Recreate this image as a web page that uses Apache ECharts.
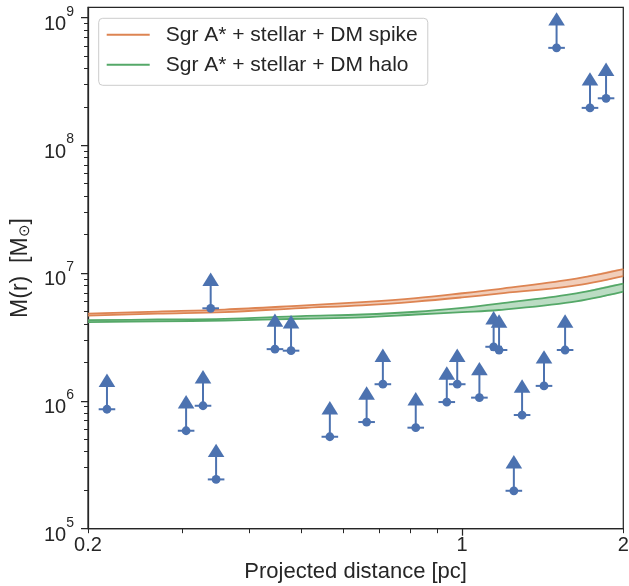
<!DOCTYPE html>
<html><head><meta charset="utf-8">
<script src="https://cdn.jsdelivr.net/npm/echarts@6/dist/echarts.min.js"></script>
<style>html,body{margin:0;padding:0;background:#fff}#c{width:629px;height:586px}</style>
</head><body><div id="c"></div>
<script>
// ---- data ----
const radii      = [0.2, 0.27, 0.36, 0.5, 0.65, 0.82, 1.0, 1.17, 1.6, 2.0];
const spikeUpper = [4.82e6, 5.00e6, 5.18e6, 5.57e6, 5.93e6, 6.37e6, 6.95e6, 7.50e6, 8.93e6, 1.075e7];
const spikeLower = [4.65e6, 4.82e6, 4.95e6, 5.32e6, 5.59e6, 5.98e6, 6.45e6, 6.91e6, 7.91e6, 9.47e6];
const haloUpper  = [4.28e6, 4.33e6, 4.38e6, 4.61e6, 4.74e6, 4.98e6, 5.35e6, 5.77e6, 6.85e6, 8.28e6];
const haloLower  = [4.13e6, 4.19e6, 4.25e6, 4.39e6, 4.50e6, 4.74e6, 4.95e6, 5.14e6, 5.93e6, 7.17e6];

const starR = [0.217, 0.305, 0.328, 0.339, 0.347, 0.447, 0.479, 0.566, 0.663, 0.711, 0.819, 0.936,
               0.979, 1.077, 1.145, 1.172, 1.249, 1.294, 1.422, 1.557, 1.501, 1.733, 1.857];
const starM = [8.6e5, 5.84e5, 9.16e5, 5.30e6, 2.43e5, 2.54e6, 2.47e6, 5.24e5, 6.83e5, 1.35e6, 6.17e5, 9.79e5,
               1.35e6, 1.06e6, 2.65e6, 2.50e6, 1.98e5, 7.75e5, 1.31e6, 2.50e6, 5.78e8, 1.96e8, 2.33e8];

const yMajorTicks = [1e5, 1e6, 1e7, 1e8, 1e9];
const yMinorTicks = [2e5,3e5,4e5,5e5,6e5,7e5,8e5,9e5,
                     2e6,3e6,4e6,5e6,6e6,7e6,8e6,9e6,
                     2e7,3e7,4e7,5e7,6e7,7e7,8e7,9e7,
                     2e8,3e8,4e8,5e8,6e8,7e8,8e8,9e8];
const xLabelTicks = [0.2, 1, 2];
const xMajorTicks = [1];
const xMinorTicks = [0.2, 0.3, 0.4, 0.5, 0.6, 0.7, 0.8, 0.9, 2];

const SPIKE_NAME = 'Sgr A* + stellar + DM spike';
const HALO_NAME = 'Sgr A* + stellar + DM halo';

// ---- styles ----
const INK = '#262626';
const FONT = 'Liberation Sans, Arial, sans-serif';
const BLUE = '#4C72B0', ORANGE = '#DD8452', GREEN = '#55A868';
const SMOOTH = 0.35;

function pairs(xs, ys) { return xs.map((x, i) => [x, ys[i]]); }

// filled band + its two edges, drawn through the axes' scales
function bandSeries(name, upper, lower, color, fill) {
  return {
    type: 'custom', name: name, xAxisIndex: 0, yAxisIndex: 0, silent: true, z: 2, clip: true,
    itemStyle: { color: color },
    data: [[radii[0], upper[0]]],
    renderItem: (params, api) => {
      const up = radii.map((r, i) => api.coord([r, upper[i]]));
      const lo = radii.map((r, i) => api.coord([r, lower[i]]));
      const poly = up.concat(lo.slice().reverse());
      return { type: 'group', children: [
        { type: 'polygon', shape: { points: poly, smooth: SMOOTH }, style: { fill: fill } },
        { type: 'polyline', shape: { points: up, smooth: SMOOTH }, style: { stroke: color, lineWidth: 1.8, fill: null } },
        { type: 'polyline', shape: { points: lo, smooth: SMOOTH }, style: { stroke: color, lineWidth: 1.8, fill: null } }
      ] };
    }
  };
}

const yLog = { type: 'log', logBase: 10, min: 1e5, max: 1.2e9 };
const xLog = { type: 'log', logBase: 10, min: 0.2, max: 2 };

const option = {
  animation: false,
  backgroundColor: '#fff',
  grid: { left: 88, right: 5.7, top: 7.3, bottom: 57.3, show: true, borderColor: INK, borderWidth: 1.25,
          backgroundColor: 'transparent', outerBoundsMode: 'none' },
  legend: {
    orient: 'vertical', left: 98.7, top: 18.3,
    data: [{ name: SPIKE_NAME, itemStyle: { color: ORANGE } }, { name: HALO_NAME, itemStyle: { color: GREEN } }],
    icon: 'rect', itemWidth: 43, itemHeight: 2, itemGap: 9,
    padding: [6, 10, 10, 8],
    backgroundColor: 'rgba(255,255,255,0.8)', borderColor: '#cccccc', borderWidth: 1, borderRadius: 4,
    textStyle: { color: INK, fontSize: 21, fontFamily: FONT, lineHeight: 21, padding: [0, 0, 0, 11] },
    selectedMode: false
  },
  xAxis: [
    Object.assign({}, xLog, {
      position: 'bottom',
      name: 'Projected distance [pc]', nameLocation: 'middle', nameGap: 26,
      nameTextStyle: { color: INK, fontSize: 22, fontFamily: FONT },
      axisLine: { show: true, lineStyle: { color: INK, width: 1.25 } },
      axisTick: { show: true, customValues: xMajorTicks, length: 7, lineStyle: { color: INK, width: 1.25 } },
      axisLabel: { show: true, customValues: xLabelTicks, margin: 7, color: INK, fontSize: 20, fontFamily: FONT,
                   formatter: v => String(Math.round(v * 10) / 10) },
      splitLine: { show: false }, minorTick: { show: false }
    }),
    Object.assign({}, xLog, {
      position: 'bottom',
      axisLine: { show: false },
      axisTick: { show: true, customValues: xMinorTicks, length: 4.5, lineStyle: { color: INK, width: 1 } },
      axisLabel: { show: false }, splitLine: { show: false }
    })
  ],
  yAxis: [
    Object.assign({}, yLog, {
      position: 'left',
      name: '{a|M(r)  [M}{s|⊙}{a|]}', nameLocation: 'middle', nameGap: 56,
      nameTextStyle: { color: INK, fontFamily: FONT,
        rich: { a: { fontSize: 23, color: INK, fontFamily: FONT },
                s: { fontSize: 15, color: INK, verticalAlign: 'bottom', fontFamily: FONT } } },
      axisLine: { show: true, lineStyle: { color: INK, width: 1.25 } },
      axisTick: { show: true, customValues: yMajorTicks, length: 7, lineStyle: { color: INK, width: 1.25 } },
      axisLabel: { show: true, customValues: yMajorTicks, margin: 14, color: INK, padding: [4, 0, 0, 0],
        formatter: v => '{b|10}{e|' + Math.round(Math.log10(v)) + '}',
        rich: { b: { fontSize: 20, color: INK, fontFamily: FONT, padding: [9.5, 0, 0, 0] },
                e: { fontSize: 14, color: INK, fontFamily: FONT, verticalAlign: 'top' } } },
      splitLine: { show: false }, minorTick: { show: false }
    }),
    Object.assign({}, yLog, {
      position: 'left',
      axisLine: { show: false },
      axisTick: { show: true, customValues: yMinorTicks, length: 4, lineStyle: { color: INK, width: 1 } },
      axisLabel: { show: false }, splitLine: { show: false }
    })
  ],
  series: [
    bandSeries(SPIKE_NAME, spikeUpper, spikeLower, ORANGE, 'rgba(221,132,82,0.4)'),
    bandSeries(HALO_NAME, haloUpper, haloLower, GREEN, 'rgba(85,168,104,0.4)'),
    {
      type: 'custom', xAxisIndex: 0, yAxisIndex: 0, z: 5, silent: true,
      data: pairs(starR, starM),
      renderItem: (params, api) => {
        const p = api.coord([api.value(0), api.value(1)]);
        const L = 29, hw = 8.3, th = 6.7;
        return { type: 'group', children: [
          { type: 'line', shape: { x1: p[0], y1: p[1], x2: p[0], y2: p[1] - L }, style: { stroke: BLUE, lineWidth: 2 } },
          { type: 'line', shape: { x1: p[0] - hw, y1: p[1], x2: p[0] + hw, y2: p[1] }, style: { stroke: BLUE, lineWidth: 2 } },
          { type: 'circle', shape: { cx: p[0], cy: p[1], r: 4.4 }, style: { fill: BLUE } },
          { type: 'polygon', shape: { points: [[p[0], p[1] - L - th], [p[0] - hw, p[1] - L + th], [p[0] + hw, p[1] - L + th]] },
            style: { fill: BLUE } }
        ] };
      }
    }
  ]
};
const chart = echarts.init(document.getElementById('c'), null, { renderer: 'canvas' });
chart.setOption(option);
</script></body></html>
